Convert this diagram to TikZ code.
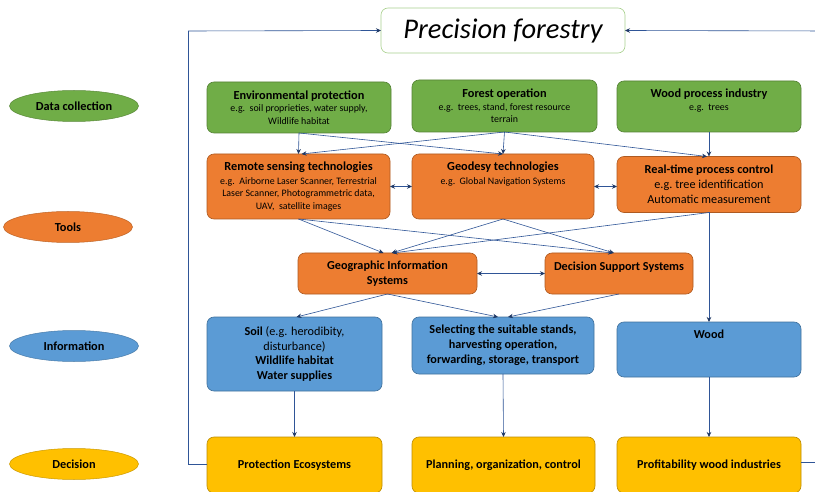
\documentclass[tikz,border=0pt]{standalone}
\usepackage{fontspec}
\setmainfont{Carlito}
\usetikzlibrary{shapes.geometric,arrows.meta}
\definecolor{gfill}{HTML}{70AD47}
\definecolor{gdraw}{HTML}{548235}
\definecolor{ofill}{HTML}{ED7D31}
\definecolor{odraw}{HTML}{AE5A21}
\definecolor{bfill}{HTML}{5B9BD5}
\definecolor{bdraw}{HTML}{41719C}
\definecolor{yfill}{HTML}{FFC000}
\definecolor{ydraw}{HTML}{BC8C00}
\definecolor{pfdraw}{HTML}{A9D18E}
\definecolor{conn}{HTML}{2F5597}
\definecolor{tipc}{HTML}{1F3864}
\newcommand{\bigtitle}{\fontsize{12.3}{12.5}\selectfont\bfseries}
\tikzset{
  box/.style={draw, rounded corners=7pt, line width=0.6pt, inner sep=0pt, outer sep=0pt},
  gbox/.style={box, fill=gfill, draw=gdraw},
  obox/.style={box, fill=ofill, draw=odraw},
  bbox/.style={box, fill=bfill, draw=bdraw},
  ybx/.style={box, fill=yfill, draw=ydraw},
  lane/.style={ellipse, draw, line width=0.5pt, minimum width=129pt, minimum height=31pt, inner sep=0pt, font=\fontsize{12.3}{14}\selectfont\bfseries},
  txt/.style={align=center, inner sep=0pt, font=\fontsize{9.9}{12.5}\selectfont},
  big/.style={align=center, inner sep=0pt, font=\fontsize{12.2}{14.8}\selectfont},
  bigb/.style={align=center, inner sep=0pt, font=\fontsize{12.2}{14.8}\selectfont\bfseries},
  arr/.style={draw=conn, line width=0.6pt, -{Stealth[length=5pt,width=4.5pt,color=tipc,fill=tipc]}},
  darr/.style={draw=conn, line width=0.6pt, {Stealth[length=5pt,width=4.5pt,color=tipc,fill=tipc]}-{Stealth[length=5pt,width=4.5pt,color=tipc,fill=tipc]}},
  ln/.style={draw=conn, line width=0.6pt}
}
\begin{document}
\begin{tikzpicture}[x=1pt,y=-1pt]
\useasboundingbox (0,0) rectangle (815,492);
\clip (0,0) rectangle (815,492);
\fill[white] (0,0) rectangle (815,492);

% lanes
\node[lane, fill=gfill, draw=gfill!80!black] (l1) at (74,106) {Data collection};
\node[lane, fill=ofill, draw=ofill!80!black] (l2) at (68,227) {Tools};
\node[lane, fill=bfill, draw=bfill!80!black] (l3) at (74,346) {Information};
\node[lane, fill=yfill, draw=yfill!80!black] (l4) at (74,464) {Decision};

% title
\node[box, draw=pfdraw, fill=white, minimum width=244pt, minimum height=45pt,
  font=\fontsize{28.5}{30}\selectfont\itshape] (pf) at (503,30.5) {Precision forestry};

% boxes
\node[gbox, minimum width=184pt, minimum height=51pt] (env) at (299,107.5) {};
\node[gbox, minimum width=185pt, minimum height=52pt] (fo) at (504.5,106) {};
\node[gbox, minimum width=184pt, minimum height=51pt] (wpi) at (709,106.5) {};
\node[obox, minimum width=183pt, minimum height=65pt] (rs) at (298.5,186.5) {};
\node[obox, minimum width=182pt, minimum height=65pt] (geo) at (503,186.5) {};
\node[obox, minimum width=184pt, minimum height=56pt] (rt) at (709,184.5) {};
\node[obox, minimum width=179pt, minimum height=41pt] (gis) at (387.5,273.5) {};
\node[obox, minimum width=148pt, minimum height=41pt] (dss) at (619,273.5) {};
\node[bbox, minimum width=175pt, minimum height=74pt] (soil) at (294.5,354) {};
\node[bbox, minimum width=182pt, minimum height=57pt] (sel) at (503,345.5) {};
\node[bbox, minimum width=184pt, minimum height=55pt] (wood) at (709,349.5) {};
\node[ybx, minimum width=175pt, minimum height=56pt] (prot) at (294.5,465) {};
\node[ybx, minimum width=183pt, minimum height=56pt] (plan) at (503.5,465) {};
\node[ybx, minimum width=184pt, minimum height=56pt] (prof) at (709,465) {};

% texts
\node[txt] (tenv) at (env) {{\bigtitle Environmental protection}\\e.g.\ \ soil proprieties, water supply,\\Wildlife habitat};
\node[txt] (tfo) at (fo) {{\bigtitle Forest operation}\\e.g.\ \ trees,\ stand, forest resource\\terrain};
\node[txt, anchor=north] (twpi) at ([yshift=-8]wpi.north) {{\bigtitle Wood process industry}\\e.g.\ \ trees};
\node[txt] (trs) at (rs) {{\bigtitle Remote sensing technologies}\\[1.5pt]e.g.\ \ Airborne Laser Scanner, Terrestrial\\Laser Scanner, Photogrammetric\ data,\\UAV,\ \ satellite images};
\node[txt, anchor=north] (tgeo) at ([yshift=-8]geo.north) {{\bigtitle Geodesy technologies}\\[1.5pt]e.g.\ \ Global Navigation Systems};
\node[big] (trt) at (rt) {\textbf{Real-time process control}\\e.g.\ tree identification\\Automatic measurement};
\node[bigb] (tgis) at (gis) {Geographic Information\\Systems};
\node[bigb] (tdss) at ([yshift=6]dss) {Decision Support Systems};
\node[big] (tsoil) at (soil) {\textbf{Soil} (e.g. herodibity,\\disturbance)\\\textbf{Wildlife habitat}\\\textbf{Water supplies}};
\node[bigb] (tsel) at (sel) {Selecting the suitable stands,\\harvesting operation,\\forwarding, storage, transport};
\node[bigb, anchor=north] (twood) at ([yshift=-8]wood.north) {Wood};
\node[bigb] (tprot) at (prot) {Protection Ecosystems};
\node[bigb] (tplan) at (plan) {Planning, organization, control};
\node[bigb] (tprof) at (prof) {Profitability wood industries};

% green -> orange
\draw[arr] (env.south) -- (rs.north);
\draw[arr] (env.south) -- (geo.north);
\draw[arr] (fo.south) -- ([xshift=3]rs.north);
\draw[arr] (fo.south) -- (geo.north);
\draw[arr] (fo.south) -- ([xshift=-2]rt.north);
\draw[arr] (wpi.south) -- (rt.north);

% orange <-> orange
\draw[darr] (rs.east) -- (geo.west);
\draw[darr] (geo.east) -- (geo.east -| rt.west);
\draw[darr] (gis.east) -- (dss.west);

% tools -> GIS / DSS
\draw[arr] (rs.south) -- ([xshift=-4]gis.north);
\draw[arr] (rs.south) -- ([xshift=-6]dss.north);
\draw[arr] (geo.south) -- ([xshift=4]gis.north);
\draw[arr] (geo.south) -- ([xshift=-5]dss.north);
\draw[arr] (rt.south) -- ([xshift=5]gis.north);
\draw[arr] (rt.south) -- (wood.north);

% GIS / DSS -> information
\draw[arr] (gis.south) -- ([xshift=2]soil.north);
\draw[arr] (gis.south) -- ([xshift=-5]sel.north);
\draw[arr] (dss.south) -- ([xshift=5]sel.north);

% information -> decision
\draw[arr] (soil.south) -- (prot.north);
\draw[arr] (sel.south) -- (plan.north);
\draw[arr] (wood.south) -- (prof.north);

% feedback loops
\coordinate (lc) at (188,31);
\coordinate (rc) at (830,31);
\draw[ln] ([yshift=1]prot.west) -| (lc);
\draw[arr] (lc) -- (pf.west);
\draw[ln] ([yshift=3]prof.east) -| (rc);
\draw[arr] (rc) -- (pf.east);
\end{tikzpicture}
\end{document}
